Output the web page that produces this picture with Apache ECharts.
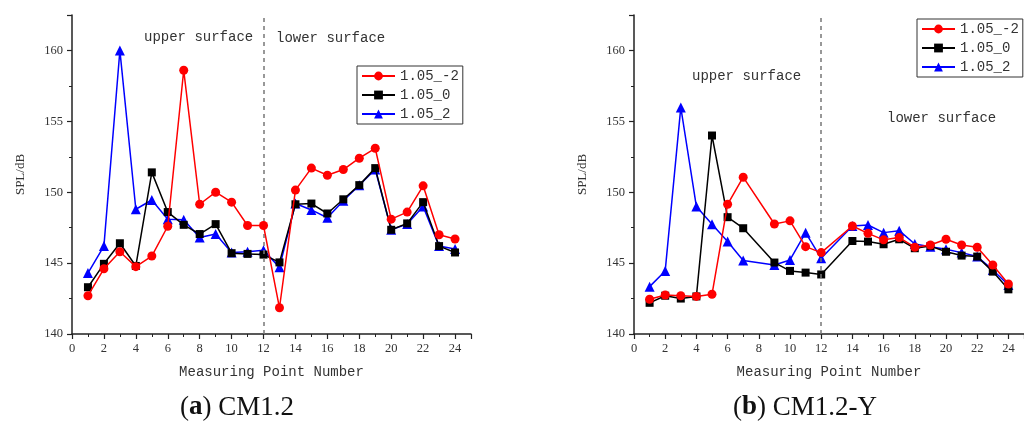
<!DOCTYPE html>
<html>
<head>
<meta charset="utf-8">
<script src="https://cdn.jsdelivr.net/npm/echarts@6/dist/echarts.min.js"></script>
<style>
html,body{margin:0;padding:0;background:#fff;}
#chart{width:1024px;height:424px;}
</style>
</head>
<body>
<div id="chart"></div>
<script>
const points = [1,2,3,4,5,6,7,8,9,10,11,12,13,14,15,16,17,18,19,20,21,22,23,24];
const seriesNames = ['1.05_-2', '1.05_0', '1.05_2'];
const xTicks = [0,2,4,6,8,10,12,14,16,18,20,22,24];
const yTicks = [140,145,150,155,160];

// (a) CM1.2
const a_m2 = [142.7,144.6,145.8,144.75,145.5,147.6,158.6,149.15,150.0,149.3,147.65,147.65,141.85,150.15,151.7,151.2,151.6,152.4,153.1,148.1,148.6,150.45,147.0,146.7];
const a_0  = [143.3,144.95,146.4,144.8,151.4,148.6,147.7,147.05,147.75,145.7,145.65,145.6,145.05,149.15,149.2,148.5,149.5,150.5,151.7,147.35,147.8,149.3,146.2,145.75];
const a_2  = [144.3,146.2,160.0,148.8,149.45,148.1,148.05,146.8,147.05,145.75,145.8,145.9,144.7,149.2,148.75,148.2,149.4,150.5,151.6,147.35,147.75,149.0,146.2,146.0];

// (b) CM1.2-Y  (points 8 and 13 not measured)
const b_m2 = [142.45,142.75,142.7,142.65,142.8,149.15,151.06,null,147.76,147.98,146.16,145.74,null,147.62,147.1,146.64,146.8,146.12,146.28,146.68,146.28,146.12,144.87,143.53];
const b_0  = [142.2,142.7,142.5,142.65,154.0,148.24,147.46,null,145.04,144.45,144.33,144.2,null,146.56,146.52,146.33,146.68,146.05,146.2,145.8,145.53,145.46,144.4,143.15];
const b_2  = [143.34,144.45,155.98,148.99,147.74,146.52,145.18,null,144.87,145.22,147.15,145.34,null,147.62,147.69,147.15,147.29,146.35,146.16,145.98,145.74,145.46,144.52,143.46];

const colors = ['#ff0000', '#000000', '#0000ff'];
const symbols = ['circle', 'rect', 'triangle'];
const symbolSizes = [9, 8, 10];

const serifFont = '"Liberation Serif", "DejaVu Serif", serif';
const monoFont = '"Liberation Mono", "DejaVu Sans Mono", monospace';

function pairs(vals) { return points.map((p, i) => [p, vals[i]]); }

function xAxisFor(gi) {
  return {
    type: 'value', gridIndex: gi, min: 0, max: 25, interval: 2,
    name: 'Measuring Point Number', nameLocation: 'middle', nameGap: 31,
    nameTextStyle: { fontFamily: monoFont, fontSize: 14, color: '#333' },
    axisLine: { show: true, onZero: false, lineStyle: { color: '#222', width: 1.5 } },
    axisTick: { show: true, inside: false, length: 5, lineStyle: { color: '#222', width: 1.2 } },
    minorTick: { show: true, splitNumber: 2, length: 3, lineStyle: { color: '#222', width: 1 } },
    axisLabel: { fontFamily: serifFont, fontSize: 12.5, color: '#333', margin: 8, showMaxLabel: false,
      formatter: v => (xTicks.indexOf(v) >= 0 ? String(v) : '') },
    splitLine: { show: false }
  };
}
function yAxisFor(gi) {
  return {
    type: 'value', gridIndex: gi, min: 140, max: 162.5, interval: 5,
    name: 'SPL/dB', nameLocation: 'middle', nameGap: 45, nameRotate: 90,
    nameTextStyle: { fontFamily: serifFont, fontSize: 13, color: '#333' },
    axisLine: { show: true, lineStyle: { color: '#222', width: 1.5 } },
    axisTick: { show: true, inside: false, length: 5, lineStyle: { color: '#222', width: 1.2 } },
    minorTick: { show: true, splitNumber: 2, length: 3, lineStyle: { color: '#222', width: 1 } },
    axisLabel: { fontFamily: serifFont, fontSize: 12.5, color: '#333', margin: 9, showMaxLabel: false,
      formatter: v => (yTicks.indexOf(v) >= 0 ? String(v) : '') },
    splitLine: { show: false }
  };
}

function makeSeries(gi, dataSets) {
  return dataSets.map((vals, k) => {
    const s = {
      name: seriesNames[k], type: 'line', xAxisIndex: gi, yAxisIndex: gi,
      data: pairs(vals), connectNulls: true,
      symbol: symbols[k], symbolSize: symbolSizes[k], showAllSymbol: true,
      itemStyle: { color: colors[k] },
      lineStyle: { color: colors[k], width: 1.5 },
      z: 3 + (2 - k)
    };
    if (k === 0) {
      s.markLine = {
        silent: true, symbol: ['none', 'none'], label: { show: false },
        lineStyle: { type: [4, 4], color: '#777', width: 1.5 },
        data: [{ xAxis: 12 }], animation: false
      };
    }
    return s;
  });
}

function legendFor(left, top) {
  return {
    orient: 'vertical', left: left, top: top,
    data: seriesNames,
    itemWidth: 33, itemHeight: 11, itemGap: 5,
    padding: [3, 4],
    borderColor: '#333', borderWidth: 1, backgroundColor: '#fff',
    textStyle: { fontFamily: monoFont, fontSize: 14, color: '#333' },
    selectedMode: false
  };
}

const chart = echarts.init(document.getElementById('chart'), null, { renderer: 'canvas' });
chart.setOption({
  animation: false,
  backgroundColor: '#fff',
  grid: [
    { left: 72, top: 15, width: 399, bottom: 90 },
    { left: 634, top: 15, width: 400, bottom: 90 }
  ],
  xAxis: [xAxisFor(0), xAxisFor(1)],
  yAxis: [yAxisFor(0), yAxisFor(1)],
  legend: [legendFor(357, 66), legendFor(917, 19)],
  series: makeSeries(0, [a_m2, a_0, a_2]).concat(makeSeries(1, [b_m2, b_0, b_2])),
  graphic: [
    { type: 'text', left: 144, top: 30, style: { text: 'upper surface', font: '14px ' + monoFont, fill: '#333' } },
    { type: 'text', left: 276, top: 31, style: { text: 'lower surface', font: '14px ' + monoFont, fill: '#333' } },
    { type: 'text', left: 692, top: 69, style: { text: 'upper surface', font: '14px ' + monoFont, fill: '#333' } },
    { type: 'text', left: 887, top: 111, style: { text: 'lower surface', font: '14px ' + monoFont, fill: '#333' } },
    { type: 'text', left: 180, top: 394, style: {
        text: '({b|a}) CM1.2', font: '27px ' + serifFont, fill: '#111',
        rich: { b: { fontWeight: 'bold', fontSize: 27, fontFamily: serifFont, fill: '#111' } } } },
    { type: 'text', left: 733, top: 394, style: {
        text: '({b|b}) CM1.2-Y', font: '27px ' + serifFont, fill: '#111',
        rich: { b: { fontWeight: 'bold', fontSize: 27, fontFamily: serifFont, fill: '#111' } } } }
  ]
});
</script>
</body>
</html>
